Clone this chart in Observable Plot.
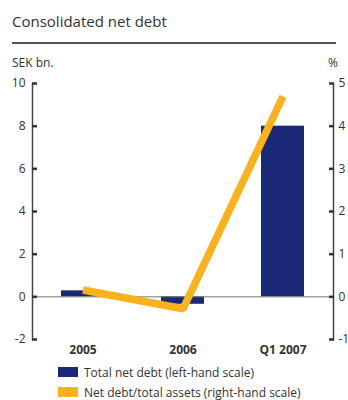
<!DOCTYPE html>
<html><head><meta charset="utf-8">
<script src="https://cdn.jsdelivr.net/npm/d3@7"></script>
<script src="https://cdn.jsdelivr.net/npm/@observablehq/plot@0.6"></script>
<style>
body{margin:0;background:#fff;font-family:"Open Sans","Noto Sans",sans-serif;color:#333;}
#wrap{position:relative;width:348px;height:400px;}
#title{position:absolute;left:12px;top:11px;font-size:15px;color:#333;}
#rule{position:absolute;left:12px;top:42px;width:324px;height:1.5px;background:#555;}
#lunit{position:absolute;left:12px;top:54px;font-size:12px;}
#runit{position:absolute;right:10px;top:54px;font-size:12px;}
#chart{position:absolute;left:0;top:50px;}
#legend{position:absolute;left:58px;top:362px;font-size:12px;}
.row{display:flex;align-items:center;height:20px;}
.sw{width:20px;height:10px;margin-right:6px;}
</style></head>
<body><div id="wrap">
<div id="title">Consolidated net debt</div>
<div id="rule"></div>
<div id="lunit">SEK bn.</div>
<div id="runit">%</div>
<div id="chart"></div>
<div id="legend"></div>
</div>
<script>
const categories = ["2005", "2006", "Q1 2007"];
const netDebt = [0.28, -0.35, 8.0];          // SEK bn., left-hand scale
const debtToAssets = [0.16, -0.28, 4.7];     // %, right-hand scale
const leftTicks = [-2, 0, 2, 4, 6, 8, 10];
const rightTicks = [-1, 0, 1, 2, 3, 4, 5];
const seriesNames = ["Total net debt (left-hand scale)", "Net debt/total assets (right-hand scale)"];
const colors = ["#1a2878", "#f9b21b"];

const ratio = 2; // left units per right unit
const data = categories.map((c, i) => ({cat: c, debt: netDebt[i], pct: debtToAssets[i]}));
const fmt = d => String(d).replace("\u2212", "-");

const chart = Plot.plot({
  width: 348,
  height: 315,
  marginTop: 33,
  marginBottom: 26,
  marginLeft: 32,
  marginRight: 15,
  style: {fontFamily: '"Open Sans","Noto Sans",sans-serif', fontSize: "12px", color: "#333"},
  x: {domain: categories, paddingInner: 0.57, paddingOuter: 0.285, label: null},
  y: {domain: [-2, 10], label: null},
  marks: [
    Plot.frame({anchor: "left", stroke: "#444", strokeWidth: 1.5}),
    Plot.frame({anchor: "right", stroke: "#444", strokeWidth: 1.5}),
    Plot.barY(data, {x: "cat", y: "debt", fill: colors[0]}),
    Plot.ruleY([0], {stroke: "#777", strokeWidth: 1}),
    Plot.line(data, {x: "cat", y: d => d.pct * ratio, stroke: colors[1], strokeWidth: 7.5, strokeLinejoin: "miter", strokeLinecap: "butt"}),
    Plot.axisY({anchor: "left", ticks: leftTicks, tickFormat: d => fmt(d), tickSize: -5, tickPadding: 12, strokeWidth: 2.5, stroke: "#333", label: null}),
    Plot.axisY({anchor: "right", ticks: rightTicks.map(v => v * ratio), tickFormat: d => fmt(d / ratio), tickSize: -5, tickPadding: 10, strokeWidth: 2.5, stroke: "#333", label: null}),
    Plot.axisX({tickSize: 0, tickPadding: 6, fontWeight: "bold", label: null})
  ]
});
document.getElementById("chart").append(chart);

const legend = document.getElementById("legend");
seriesNames.forEach((n, i) => {
  const r = document.createElement("div");
  r.className = "row";
  r.innerHTML = `<div class="sw" style="background:${colors[i]}"></div><span>${n}</span>`;
  legend.append(r);
});
</script>
</body></html>
